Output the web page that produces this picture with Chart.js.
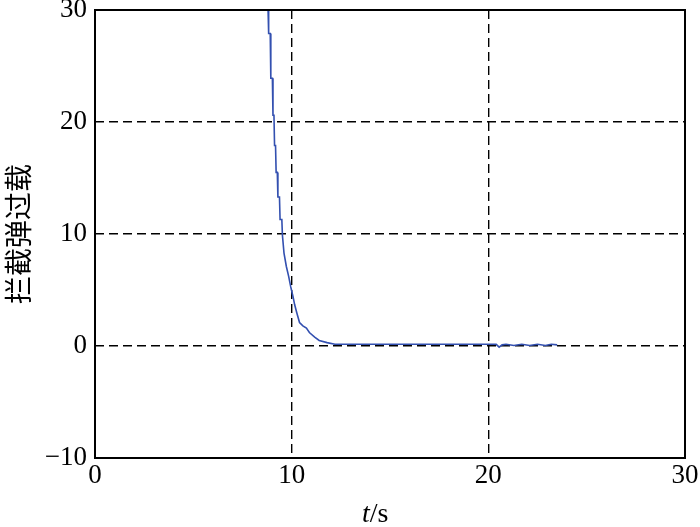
<!DOCTYPE html>
<html lang="zh">
<head>
    <meta charset="UTF-8">
    <title>拦截弹过载</title>
    <script src="https://cdn.jsdelivr.net/npm/chart.js"></script>
    <style>
        body {
            margin: 0;
            padding: 0;
            background-color: white;
        }
        .wrap {
            position: relative;
            width: 700px;
            height: 527px;
        }
        .xtitle {
            position: absolute;
            left: 362px;
            top: 497px;
            font-family: "Liberation Serif", serif;
            font-size: 28px;
            color: black;
        }
    </style>
</head>
<body>
    <div class="wrap">
        <canvas id="loadChart" width="700" height="527"></canvas>
        <div class="xtitle"><i>t</i>/s</div>
    </div>

    <script>
        // time (s) and interceptor overload
        const time = [8.80, 8.83, 8.91, 8.94, 9.02, 9.05, 9.10, 9.13, 9.18, 9.21, 9.27, 9.30, 9.38, 9.41,
            9.50, 9.53, 9.61, 9.73, 9.85, 9.95, 10.07, 10.15, 10.27, 10.40, 10.57, 10.75, 10.90, 11.17,
            11.40, 11.80, 12.20, 20.40, 20.55, 20.70, 20.90, 21.30, 21.70, 22.10, 22.50, 22.90, 23.20, 23.50];
        const load = [30.0, 27.9, 27.9, 23.9, 23.9, 20.6, 20.6, 17.9, 17.9, 15.5, 15.5, 13.3, 13.3, 11.3,
            11.3, 9.9, 8.3, 7.1, 6.2, 5.3, 4.4, 3.7, 2.9, 2.1, 1.8, 1.6, 1.2, 0.8,
            0.5, 0.3, 0.15, 0.15, -0.1, 0.1, 0.15, 0.05, 0.15, 0.05, 0.15, 0.05, 0.15, 0.1];

        const xTicks = [0, 10, 20, 30];
        const yTicks = [-10, 0, 10, 20, 30];

        const points = time.map((t, i) => ({ x: t, y: load[i] }));

        // full box round the plot area
        const boxPlugin = {
            id: "box",
            afterDraw(chart) {
                const a = chart.chartArea;
                const ctx = chart.ctx;
                ctx.save();
                ctx.strokeStyle = "black";
                ctx.lineWidth = 2;
                ctx.strokeRect(a.left, a.top, a.right - a.left, a.bottom - a.top);
                ctx.restore();
            }
        };

        const tickFont = { family: "Liberation Serif", size: 27 };

        new Chart(document.getElementById("loadChart"), {
            type: "scatter",
            data: {
                datasets: [{
                    data: points,
                    showLine: true,
                    borderColor: "#3350b0",
                    borderWidth: 1.6,
                    pointRadius: 0,
                    fill: false,
                    tension: 0
                }]
            },
            options: {
                responsive: false,
                animation: false,
                layout: { padding: { top: 10, right: 15, left: 0, bottom: 0 } },
                plugins: {
                    legend: { display: false },
                    tooltip: { enabled: false }
                },
                scales: {
                    x: {
                        type: "linear",
                        min: xTicks[0],
                        max: xTicks[xTicks.length - 1],
                        afterBuildTicks: s => { s.ticks = xTicks.map(v => ({ value: v })); },
                        afterFit: s => { s.height = 69; s.paddingLeft = 0; s.paddingRight = 0; },
                        ticks: { font: tickFont, color: "black", padding: 2, maxRotation: 0 },
                        grid: { color: "black", lineWidth: 1.4, drawTicks: false },
                        border: { display: false, dash: [9, 5] }
                    },
                    y: {
                        type: "linear",
                        min: yTicks[0],
                        max: yTicks[yTicks.length - 1],
                        afterBuildTicks: s => { s.ticks = yTicks.map(v => ({ value: v })); },
                        afterFit: s => { s.width = 95; s.paddingTop = 0; s.paddingBottom = 0; },
                        ticks: {
                            font: tickFont,
                            color: "black",
                            padding: 8,
                            callback: v => v < 0 ? "\u2212" + Math.abs(v) : String(v)
                        },
                        grid: { color: "black", lineWidth: 1.4, drawTicks: false },
                        border: { display: false, dash: [9, 5] },
                        title: {
                            display: true,
                            text: "拦截弹过载",
                            color: "black",
                            font: { family: "Noto Sans CJK SC", size: 28 },
                            padding: { top: 2, bottom: 0 }
                        }
                    }
                }
            },
            plugins: [boxPlugin]
        });
    </script>
</body>
</html>
